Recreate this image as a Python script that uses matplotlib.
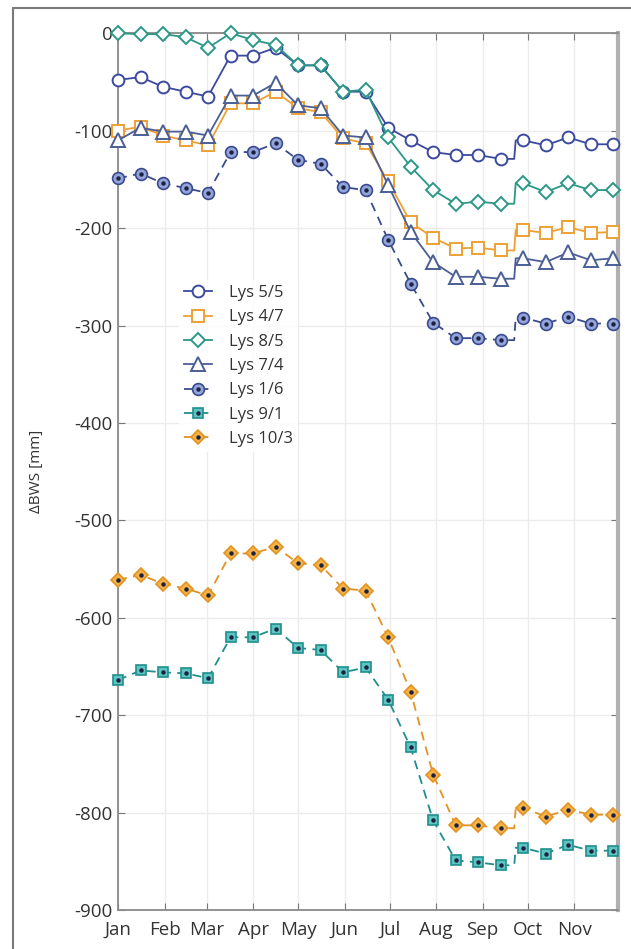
import matplotlib
matplotlib.use("Agg")
import matplotlib.pyplot as plt
from matplotlib.patches import Rectangle
from matplotlib.legend_handler import HandlerTuple

plt.rcParams['font.family'] = ['Open Sans', 'DejaVu Sans']
plt.rcParams['axes.unicode_minus'] = False

# day of year; 265/266 are the break points of the jump at the end of Sep
days = [1, 16, 31, 46, 61, 76, 91, 106, 121, 136, 151, 166, 181, 196, 211,
        226, 241, 256, 265, 266, 271, 286, 301, 316, 331]
marker_idx = [i for i, d in enumerate(days) if d not in (265, 266)]

month_days = [1, 32, 60, 91, 121, 152, 182, 213, 244, 274, 305]
month_labels = ['Jan', 'Feb', 'Mar', 'Apr', 'May', 'Jun', 'Jul', 'Aug', 'Sep', 'Oct', 'Nov']

lys_5_5 = [-48, -45, -55, -60, -65, -23, -23, -15, -33, -33, -60, -60, -97, -110, -122,
           -125, -125, -129, -129, -110, -110, -115, -107, -114, -114]
lys_4_7 = [-100, -96, -105, -110, -115, -72, -72, -60, -77, -81, -108, -113, -152, -194, -210,
           -221, -220, -223, -223, -202, -202, -205, -199, -205, -204]
lys_8_5 = [0, -1, -1, -4, -15, 0, -7, -12, -33, -33, -60, -58, -107, -137, -161,
           -175, -173, -175, -175, -154, -154, -163, -154, -161, -161]
lys_7_4 = [-110, -97, -101, -101, -105, -64, -64, -51, -74, -77, -105, -107, -156, -204, -235,
           -250, -250, -252, -252, -231, -231, -235, -225, -233, -231]
lys_1_6 = [-149, -144, -154, -159, -164, -122, -122, -113, -130, -134, -158, -161, -212, -257, -297,
           -313, -313, -315, -315, -292, -292, -298, -291, -298, -298]
lys_9_1 = [-664, -654, -656, -657, -662, -620, -620, -611, -631, -633, -656, -651, -684, -733, -808,
           -849, -851, -854, -854, -836, -836, -842, -833, -839, -839]
lys_10_3 = [-561, -556, -565, -570, -577, -534, -534, -527, -544, -546, -570, -572, -620, -676, -761,
            -813, -813, -816, -816, -795, -795, -804, -797, -802, -802]

fig = plt.figure(figsize=(6.31, 9.49), dpi=100)
ax = fig.add_axes([0.187, 0.041, 0.792, 0.924])

# outer frame of the figure panel
fig.add_artist(Rectangle((13 / 631, -0.05), 1.0, 1.05 - 8 / 949, transform=fig.transFigure,
                         fill=False, edgecolor='#7a7a7a', linewidth=1.5))

navy = '#3c4a9e'
orange = '#eea035'
teal = '#2b9886'
slate = '#4b5f96'

solid = [
    (lys_5_5, 'Lys 5/5', 'o', navy, 8.5),
    (lys_4_7, 'Lys 4/7', 's', orange, 8.5),
    (lys_8_5, 'Lys 8/5', 'D', teal, 7.5),
    (lys_7_4, 'Lys 7/4', '^', slate, 9.5),
]
dashed = [
    (lys_1_6, 'Lys 1/6', 'o', '#3a4a8c', '#93a5da', 8.5),
    (lys_9_1, 'Lys 9/1', 's', '#1f8f8c', '#5ec4c2', 7.5),
    (lys_10_3, 'Lys 10/3', 'D', '#e39324', '#f5b347', 7.5),
]

handles = []
labels = []
for vals, lab, m, c, ms in solid:
    ln, = ax.plot(days, vals, color=c, lw=1.3, marker=m, ms=ms, mfc='white', mec=c, mew=1.4,
                  markevery=marker_idx, clip_on=False, zorder=3)
    handles.append(ln)
    labels.append(lab)

for vals, lab, m, ec, fc, ms in dashed:
    ln, = ax.plot(days, vals, color=ec, lw=1.3, ls=(0, (5, 3.5)), marker=m, ms=ms, mfc=fc, mec=ec,
                  mew=1.2, markevery=marker_idx, clip_on=False, zorder=3)
    dot, = ax.plot([days[i] for i in marker_idx], [vals[i] for i in marker_idx], ls='none',
                   marker='o', ms=2.2, color='#1c2340', clip_on=False, zorder=4)
    handles.append((ln, dot))
    labels.append(lab)

ax.set_xlim(1, 334)
ax.set_ylim(-900, 0)
ax.set_xticks(month_days)
ax.set_xticklabels(month_labels)
ax.set_yticks(range(-900, 1, 100))
ax.grid(True, color='#ececec', lw=1.0)
ax.set_axisbelow(True)
ax.tick_params(direction='in', top=True, right=True, length=5, color='#777777',
               labelsize=13.5, labelcolor='#333333', pad=4)
ax.tick_params(axis='x', pad=8)
for s in ax.spines.values():
    s.set_color('#8a8a8a')
    s.set_linewidth(1.3)
ax.spines['right'].set_linewidth(3)
ax.spines['right'].set_color('#b0b0b0')
ax.set_ylabel('ΔBWS [mm]', fontsize=11, color='#333333', labelpad=22)

ax.legend(handles, labels, handler_map={tuple: HandlerTuple(ndivide=1, pad=0)},
          loc='upper left', bbox_to_anchor=(0.105, 0.728), fontsize=12, frameon=True,
          edgecolor='none', facecolor='white', framealpha=0.8, handlelength=1.7,
          labelspacing=0.5, handletextpad=1.0, borderpad=0.3, labelcolor='#333333')

fig.savefig('out.png', dpi=100)
